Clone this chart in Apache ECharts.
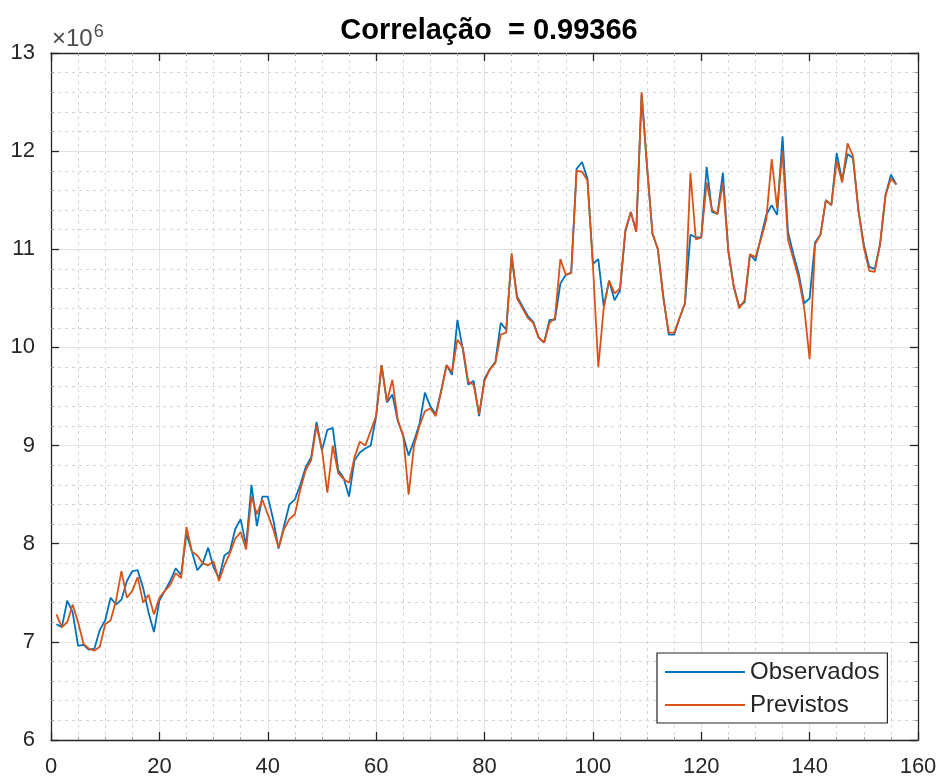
<!DOCTYPE html>
<html>
<head>
<meta charset="utf-8">
<script src="https://cdn.jsdelivr.net/npm/echarts@6/dist/echarts.min.js"></script>
<style>
  html, body { margin: 0; padding: 0; background: #fff; }
  #chart { width: 942px; height: 778px; }
</style>
</head>
<body>
<div id="chart"></div>
<script>
// Monthly series, values in millions (axis shows ×10^6)
const observados = [
  7.18, 7.15, 7.42, 7.30, 6.96, 6.97, 6.92, 6.93, 7.12, 7.22,
  7.45, 7.38, 7.43, 7.62, 7.72, 7.73, 7.55, 7.30, 7.10, 7.42,
  7.52, 7.62, 7.75, 7.68, 8.10, 7.92, 7.73, 7.80, 7.96, 7.76,
  7.65, 7.88, 7.92, 8.15, 8.25, 7.98, 8.60, 8.18, 8.48, 8.48,
  8.25, 7.95, 8.18, 8.40, 8.45, 8.60, 8.78, 8.88, 9.24, 8.95,
  9.16, 9.18, 8.75, 8.67, 8.48, 8.85, 8.93, 8.97, 9.00, 9.30,
  9.82, 9.44, 9.52, 9.25, 9.10, 8.90, 9.05, 9.22, 9.54, 9.40,
  9.32, 9.56, 9.82, 9.72, 10.28, 9.98, 9.62, 9.66, 9.30, 9.68,
  9.78, 9.85, 10.25, 10.18, 10.92, 10.52, 10.42, 10.32, 10.26, 10.10,
  10.05, 10.28, 10.28, 10.65, 10.74, 10.76, 11.82, 11.89, 11.72, 10.85,
  10.90, 10.42, 10.68, 10.48, 10.58, 11.18, 11.38, 11.18, 12.58, 11.84,
  11.16, 11.00, 10.52, 10.13, 10.13, 10.30, 10.45, 11.15, 11.12, 11.12,
  11.84, 11.38, 11.36, 11.78, 10.98, 10.62, 10.42, 10.46, 10.95, 10.88,
  11.12, 11.35, 11.45, 11.35, 12.15, 11.18, 10.95, 10.75, 10.45, 10.50,
  11.07, 11.15, 11.50, 11.45, 11.98, 11.70, 11.97, 11.93, 11.40, 11.05,
  10.82, 10.80, 11.05, 11.55, 11.76, 11.66
];
const previstos = [
  7.28, 7.15, 7.20, 7.38, 7.20, 6.98, 6.93, 6.91, 6.95, 7.18,
  7.22, 7.42, 7.72, 7.45, 7.52, 7.66, 7.40, 7.48, 7.28, 7.45,
  7.52, 7.58, 7.70, 7.65, 8.17, 7.92, 7.88, 7.80, 7.78, 7.82,
  7.62, 7.78, 7.90, 8.05, 8.12, 7.94, 8.48, 8.30, 8.45, 8.30,
  8.15, 7.96, 8.15, 8.25, 8.30, 8.55, 8.75, 8.85, 9.20, 8.96,
  8.52, 9.00, 8.72, 8.66, 8.62, 8.88, 9.04, 9.00, 9.15, 9.30,
  9.82, 9.45, 9.67, 9.26, 9.10, 8.50, 9.00, 9.20, 9.35, 9.38,
  9.30, 9.55, 9.82, 9.75, 10.08, 10.00, 9.65, 9.62, 9.32, 9.66,
  9.78, 9.84, 10.13, 10.15, 10.96, 10.50, 10.40, 10.30, 10.25, 10.10,
  10.05, 10.25, 10.30, 10.90, 10.74, 10.76, 11.80, 11.79, 11.70, 10.85,
  9.80, 10.40, 10.68, 10.55, 10.60, 11.20, 11.38, 11.18, 12.60, 11.84,
  11.16, 11.00, 10.50, 10.15, 10.15, 10.30, 10.45, 11.78, 11.10, 11.12,
  11.68, 11.40, 11.36, 11.68, 10.98, 10.62, 10.40, 10.48, 10.95, 10.92,
  11.10, 11.30, 11.92, 11.42, 12.00, 11.10, 10.90, 10.70, 10.40, 9.88,
  11.05, 11.15, 11.50, 11.45, 11.90, 11.68, 12.08, 11.95, 11.40, 11.02,
  10.78, 10.77, 11.05, 11.55, 11.72, 11.66
];
const seriesNames = ['Observados', 'Previstos'];
const titleText = 'Correlação  = 0.99366';

const FONT = 'Liberation Sans, Arial, Helvetica, sans-serif';
const AXIS = '#262626';

const toPairs = arr => arr.map((v, i) => [i + 1, v]);

const chart = echarts.init(document.getElementById('chart'), null, { renderer: 'canvas' });

const gridLine = { show: true, lineStyle: { color: '#e3e3e3', width: 1, type: 'solid' } };
const minorLine = { show: true, lineStyle: { color: '#d4d4d4', width: 1, type: [3, 4] } };

const baseX = {
  type: 'value', min: 0, max: 160, interval: 20,
  axisLine: { show: true, onZero: false, lineStyle: { color: AXIS, width: 1.3 } },
  axisTick: { show: true, inside: true, length: 8, lineStyle: { color: AXIS, width: 1.3 } },
  minorTick: { show: true, splitNumber: 4, length: 3, lineStyle: { color: '#9a9a9a' } }
};
const baseY = {
  type: 'value', min: 6, max: 13, interval: 1,
  axisLine: { show: true, onZero: false, lineStyle: { color: AXIS, width: 1.3 } },
  axisTick: { show: true, inside: true, length: 8, lineStyle: { color: AXIS, width: 1.3 } },
  minorTick: { show: true, splitNumber: 5, length: 3, lineStyle: { color: '#9a9a9a' } }
};

chart.setOption({
  animation: false,
  backgroundColor: '#ffffff',
  title: {
    text: titleText,
    left: 484, top: 11, textAlign: 'center',
    textStyle: { fontFamily: FONT, fontWeight: 'bold', fontSize: 29, color: '#000' }
  },
  grid: { left: 51, right: 24, top: 53, bottom: 38, containLabel: false },
  xAxis: [
    Object.assign({}, baseX, {
      position: 'bottom',
      axisLabel: { show: true, margin: 16, fontFamily: FONT, fontSize: 22, color: AXIS },
      splitLine: gridLine,
      minorSplitLine: minorLine
    }),
    Object.assign({}, baseX, {
      position: 'top',
      axisLabel: { show: false },
      splitLine: { show: false },
      minorSplitLine: { show: false }
    })
  ],
  yAxis: [
    Object.assign({}, baseY, {
      position: 'left',
      axisLabel: { show: true, margin: 16, fontFamily: FONT, fontSize: 22, color: AXIS },
      splitLine: gridLine,
      minorSplitLine: minorLine
    }),
    Object.assign({}, baseY, {
      position: 'right',
      axisLabel: { show: false },
      splitLine: { show: false },
      minorSplitLine: { show: false }
    })
  ],
  legend: {
    orient: 'vertical',
    left: 657, top: 653,
    padding: [7, 8, 6, 8],
    itemGap: 9,
    itemWidth: 80, itemHeight: 2,
    icon: 'rect',
    backgroundColor: '#ffffff',
    borderColor: AXIS, borderWidth: 1.2, borderRadius: 0,
    textStyle: { fontFamily: FONT, fontSize: 24, color: AXIS, lineHeight: 24 },
    data: seriesNames
  },
  graphic: [{
    type: 'text',
    left: 52, top: 23,
    style: {
      text: '×10{sup|6}',
      fill: '#4d4d4d',
      font: '24px ' + FONT,
      rich: { sup: { fontSize: 18, fontFamily: FONT, fill: '#4d4d4d', verticalAlign: 'top', padding: [0, 0, 14, 1] } }
    }
  }],
  series: [
    {
      name: seriesNames[0], type: 'line', xAxisIndex: 0, yAxisIndex: 0,
      data: toPairs(observados), showSymbol: false, symbol: 'none',
      lineStyle: { color: '#0072BD', width: 1.8 }, itemStyle: { color: '#0072BD' }, z: 3
    },
    {
      name: seriesNames[1], type: 'line', xAxisIndex: 0, yAxisIndex: 0,
      data: toPairs(previstos), showSymbol: false, symbol: 'none',
      lineStyle: { color: '#D95319', width: 1.8 }, itemStyle: { color: '#D95319' }, z: 4
    }
  ]
});
</script>
</body>
</html>
